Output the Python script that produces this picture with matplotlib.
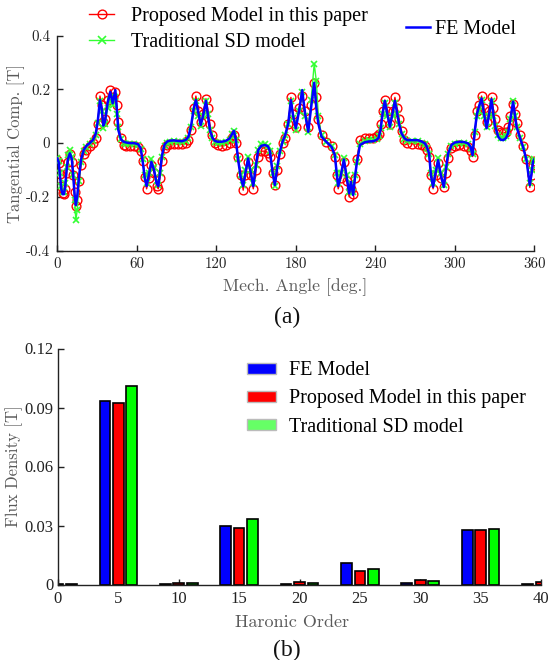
import matplotlib
matplotlib.use("Agg")
import matplotlib.pyplot as plt
from matplotlib.lines import Line2D
from matplotlib.patches import Patch
import numpy as np

plt.rcParams['axes.unicode_minus'] = False

# ---------------- data (a) ----------------
angle = [0, 1, 2, 3, 4, 5, 6, 7, 8, 9.5, 11, 12, 13, 14, 15, 16.5, 18, 20, 22, 24.5,
         27, 29, 30.5, 32.2, 33.5, 34.7, 36, 38, 40, 41.8, 43.8, 45, 46, 48, 50, 52, 55, 58,
         61, 63, 64.5, 66, 67.4, 69, 71, 73, 75, 76.2, 77.5, 79, 81, 83, 85, 88, 91, 94,
         97, 99, 101, 103, 104.6, 106.5, 108.2, 110, 112.2, 113.5, 115.2, 117, 119, 121,
         124, 127, 130, 132, 133.3, 134.8, 136.5, 138.5, 140.3, 142, 144, 146, 147.9, 150,
         151.6, 154, 156.7, 159, 160.5, 162.5, 164.2, 166, 168, 170, 172, 174.3, 176.3, 178,
         180, 182.5, 184.8, 187, 189.4, 191.5, 193.9, 195.5, 197, 199.4, 203, 207, 209.5,
         211, 212, 214, 216.3, 218.5, 220.3, 221.6, 223.3, 224.8, 226, 228.4, 232, 235,
         238.4, 241, 242.5, 244, 245.5, 247.2, 249, 251, 253, 254.8, 256.5, 258, 259.8, 262,
         264, 268, 272, 275, 277.4, 279, 280.6, 282, 283.6, 285.5, 287.4, 289.5, 291.7,
         293.5, 295, 297.5, 300, 303.5, 307, 310, 312, 313.4, 315.1, 316.8, 318.5, 320.2,
         322, 324, 326, 327.7, 329, 330.2, 332.7, 334.5, 336.5, 338.5, 340.2, 342, 344,
         345.5, 346.6, 349, 351.5, 354.1, 356.6, 358, 359, 360]

fe_model = [-0.057, -0.07, -0.12, -0.17, -0.19, -0.19, -0.16, -0.10, -0.06, -0.038, -0.06,
            -0.12, -0.19, -0.23, -0.20, -0.12, -0.06, -0.025, -0.01, 0.0,
            0.012, 0.035, 0.08, 0.16, 0.13, 0.065, 0.08, 0.15, 0.19, 0.148, 0.197, 0.12, 0.05,
            0.014, 0.005, 0.002, 0.0, 0.0,
            -0.004, -0.02, -0.07, -0.13, -0.16, -0.12, -0.07, -0.10, -0.15, -0.16, -0.11,
            -0.045, -0.005, 0.006, 0.009, 0.01, 0.008, 0.007,
            0.012, 0.024, 0.065, 0.13, 0.16, 0.11, 0.067, 0.10, 0.157, 0.11, 0.048, 0.02,
            0.008, 0.005,
            0.005, 0.008, 0.017, 0.035, 0.046, 0.011, -0.063, -0.13, -0.16, -0.11, -0.057,
            -0.11, -0.16, -0.08,
            -0.026, -0.01, -0.007, -0.012, -0.03, -0.11, -0.156, -0.09, -0.032, 0.005, 0.03,
            0.073, 0.16, 0.10,
            0.055, 0.12, 0.197, 0.11, 0.042, 0.13, 0.224, 0.13, 0.073, 0.024, 0.005, -0.014,
            -0.045,
            -0.12, -0.16, -0.12, -0.061, -0.13, -0.187, -0.144, -0.193, -0.12, -0.076, -0.007,
            0.003, 0.006,
            0.007, 0.012, 0.02, 0.05, 0.11, 0.157, 0.11, 0.061, 0.11, 0.157, 0.11, 0.07, 0.036,
            0.018,
            0.011, 0.011, 0.011, 0.006, -0.001, -0.015, -0.038, -0.12, -0.163, -0.11, -0.063,
            -0.12, -0.163,
            -0.09, -0.038, -0.007, 0.002, 0.005, 0.004, -0.001, -0.015, -0.045, 0.048, 0.11,
            0.14, 0.166,
            0.11, 0.055, 0.11, 0.163, 0.11, 0.067, 0.024, 0.013, 0.011, 0.018, 0.036, 0.09,
            0.154,
            0.10, 0.061, 0.023, -0.014, -0.063, -0.156, -0.11, -0.07, -0.06]

proposed = [-0.062, -0.075, -0.115, -0.16, -0.185, -0.19, -0.17, -0.11, -0.07, -0.04, -0.07,
            -0.12, -0.18, -0.235, -0.21, -0.14, -0.08, -0.04, -0.025, -0.012,
            0.0, 0.02, 0.07, 0.175, 0.14, 0.08, 0.09, 0.16, 0.198, 0.17, 0.19, 0.14, 0.08,
            0.02, -0.006, -0.01, -0.012, -0.012,
            -0.015, -0.03, -0.065, -0.125, -0.17, -0.13, -0.08, -0.11, -0.16, -0.17, -0.13,
            -0.065, -0.02, -0.006, -0.004, -0.003, -0.004, -0.004,
            0.0, 0.012, 0.05, 0.13, 0.175, 0.12, 0.08, 0.11, 0.165, 0.13, 0.07, 0.03,
            0.0, -0.008,
            -0.01, -0.008, 0.0, 0.02, 0.03, 0.0, -0.05, -0.12, -0.175, -0.12, -0.07,
            -0.12, -0.17, -0.1,
            -0.05, -0.03, -0.03, -0.035, -0.05, -0.11, -0.155, -0.1, -0.04, 0.0, 0.02,
            0.07, 0.17, 0.11,
            0.06, 0.13, 0.175, 0.12, 0.06, 0.14, 0.225, 0.17, 0.09, 0.03, 0.005, -0.01,
            -0.05,
            -0.12, -0.17, -0.13, -0.07, -0.14, -0.2, -0.17, -0.19, -0.13, -0.06, 0.01,
            0.018, 0.02,
            0.02, 0.025, 0.035, 0.07, 0.12, 0.16, 0.12, 0.07, 0.12, 0.17, 0.13, 0.09, 0.045,
            0.01,
            0.0, -0.003, -0.003, -0.006, -0.012, -0.025, -0.05, -0.12, -0.17, -0.12, -0.075,
            -0.13, -0.165,
            -0.11, -0.055, -0.02, -0.01, -0.008, -0.01, -0.015, -0.03, -0.05, 0.03, 0.12,
            0.14, 0.175,
            0.13, 0.08, 0.12, 0.17, 0.13, 0.09, 0.05, 0.04, 0.037, 0.04, 0.06, 0.1,
            0.145,
            0.11, 0.075, 0.03, -0.01, -0.06, -0.165, -0.12, -0.08, -0.065]

traditional = [-0.055, -0.065, -0.11, -0.16, -0.18, -0.18, -0.15, -0.09, -0.045, -0.026, -0.05,
               -0.12, -0.21, -0.287, -0.25, -0.14, -0.07, -0.03, -0.015, -0.005,
               0.008, 0.03, 0.075, 0.155, 0.12, 0.055, 0.07, 0.13, 0.16, 0.14, 0.17, 0.11, 0.06,
               0.015, 0.0, -0.003, -0.004, -0.004,
               -0.008, -0.022, -0.06, -0.12, -0.15, -0.11, -0.06, -0.09, -0.14, -0.155, -0.11,
               -0.05, -0.01, 0.002, 0.005, 0.006, 0.004, 0.003,
               0.008, 0.02, 0.06, 0.12, 0.155, 0.1, 0.065, 0.1, 0.155, 0.11, 0.05, 0.02,
               0.005, 0.0,
               0.0, 0.003, 0.012, 0.032, 0.045, 0.01, -0.06, -0.12, -0.155, -0.1, -0.05,
               -0.1, -0.15, -0.08,
               -0.025, -0.005, -0.003, -0.01, -0.03, -0.11, -0.16, -0.085, -0.03, 0.005, 0.03,
               0.07, 0.155, 0.095,
               0.05, 0.12, 0.19, 0.1, 0.04, 0.16, 0.295, 0.23, 0.1, 0.03, 0.005, -0.012,
               -0.045,
               -0.11, -0.15, -0.11, -0.055, -0.12, -0.18, -0.15, -0.18, -0.12, -0.07, -0.003,
               0.008, 0.01,
               0.01, 0.015, 0.025, 0.055, 0.11, 0.15, 0.1, 0.06, 0.1, 0.15, 0.11, 0.07, 0.035,
               0.015,
               0.008, 0.007, 0.007, 0.002, -0.005, -0.018, -0.04, -0.11, -0.15, -0.1, -0.055,
               -0.11, -0.155,
               -0.09, -0.04, -0.01, -0.002, 0.001, 0.0, -0.004, -0.02, -0.04, 0.04, 0.1,
               0.12, 0.16,
               0.1, 0.06, 0.1, 0.155, 0.1, 0.065, 0.03, 0.02, 0.018, 0.025, 0.04, 0.09,
               0.155,
               0.1, 0.06, 0.02, -0.015, -0.06, -0.15, -0.1, -0.065, -0.06]

angle_ticks = [0, 60, 120, 180, 240, 300, 360]
tang_ticks = [-0.4, -0.2, 0, 0.2, 0.4]
tang_ticklabels = ["-0.4", "-0.2", "0", "0.2", "0.4"]

# ---------------- data (b) ----------------
harm_order = [0, 5, 10, 15, 20, 25, 30, 35, 40]
fe_harm = [0.0003, 0.0932, 0.0005, 0.0300, 0.0005, 0.0108, 0.0007, 0.0276, 0.0005]
prop_harm = [0.0003, 0.0922, 0.0010, 0.0289, 0.0013, 0.0071, 0.0022, 0.0276, 0.0015]
trad_harm = [0.0003, 0.1008, 0.0008, 0.0335, 0.0010, 0.0077, 0.0020, 0.0280, 0.0010]
flux_ticks = [0, 0.03, 0.06, 0.09, 0.12]
flux_ticklabels = ["0", "0.03", "0.06", "0.09", "0.12"]
harm_ticks = [0, 5, 10, 15, 20, 25, 30, 35, 40]

# ---------------- figure ----------------
W, H = 559, 660
fig = plt.figure(figsize=(W / 100, H / 100), dpi=100)

CM = 'cmr10'
SERIF = ['Liberation Serif', 'DejaVu Serif']
LABEL_GRAY = '#5a5a5a'
TICK_COL = '#222222'

def px_axes(l, t, r, b):
    return [l / W, 1 - b / H, (r - l) / W, (b - t) / H]

# ----- (a) -----
ax1 = fig.add_axes(px_axes(57.3, 35.5, 534.3, 250.7))
ax1.plot(angle, proposed, color='#ff0000', lw=1.0, marker='o', ms=6.3, mfc='none',
         mec='#ff0000', mew=1.0, zorder=2)
ax1.plot(angle, traditional, color='#33ff33', lw=1.0, marker='x', ms=4.8, mew=1.2,
         zorder=3)
ax1.plot(angle, fe_model, color='#0000ff', lw=1.8, zorder=4)
ax1.set_xlim(0, 360)
ax1.set_ylim(-0.4, 0.4)
ax1.set_xticks(angle_ticks)
ax1.set_xticklabels([str(a) for a in angle_ticks])
ax1.set_yticks(tang_ticks)
ax1.set_yticklabels(tang_ticklabels)
for sp in ['top', 'right']:
    ax1.spines[sp].set_visible(False)
for sp in ['left', 'bottom']:
    ax1.spines[sp].set_color(TICK_COL)
    ax1.spines[sp].set_linewidth(1.0)
ax1.tick_params(direction='in', length=4, width=1.0, color=TICK_COL, labelcolor=TICK_COL,
                labelsize=10.8, pad=5)
for lab in ax1.get_xticklabels() + ax1.get_yticklabels():
    lab.set_fontfamily(CM)
ax1.set_xlabel("Mech. Angle [deg.]", fontfamily=CM, fontsize=12.7, color=LABEL_GRAY)
ax1.xaxis.set_label_coords((295.5 - 57.3) / (534.3 - 57.3), -(287 - 250.7) / (250.7 - 35.5),
                           transform=ax1.transAxes)
ax1.xaxis.label.set_va('center')
ax1.set_ylabel("Tangential Comp. [T]", fontfamily=CM, fontsize=12, color=LABEL_GRAY)
ax1.yaxis.set_label_coords(-(57.3 - 16) / (534.3 - 57.3), 0.5, transform=ax1.transAxes)
ax1.yaxis.label.set_va('center')

h_prop = Line2D([], [], color='#ff0000', lw=1.0, marker='o', ms=6.3, mfc='none',
                mec='#ff0000', mew=1.0)
h_trad = Line2D([], [], color='#33ff33', lw=1.0, marker='x', ms=5.5, mew=1.2)
h_fe = Line2D([], [], color='#0000ff', lw=1.8)
leg1 = fig.legend([h_prop, h_trad], ["Proposed Model in this paper", "Traditional SD model"],
                  loc='center left', bbox_to_anchor=(89 / W, 1 - 29.7 / H), frameon=False,
                  prop={'family': SERIF, 'size': 14.5}, borderpad=0, borderaxespad=0,
                  handlelength=1.25, handletextpad=0.85, labelspacing=0.32, numpoints=1)
leg2 = fig.legend([h_fe], ["FE Model"], loc='center left',
                  bbox_to_anchor=(406 / W, 1 - 29.3 / H), frameon=False,
                  prop={'family': SERIF, 'size': 14.5}, borderpad=0, borderaxespad=0,
                  handlelength=1.2, handletextpad=0.25)

fig.text(287 / W, 1 - 317 / H, "(a)", ha='center', va='center', fontfamily=SERIF,
         fontsize=17, color='#111111')

# ----- (b) -----
ax2 = fig.add_axes(px_axes(58, 348.5, 541, 584.5))
x = np.array(harm_order, dtype=float)
off = 1.11
bw = 0.89
ax2.bar(x - off, fe_harm, bw, color='#0000ff', edgecolor='black', lw=1.2, zorder=2)
ax2.bar(x, prop_harm, bw, color='#ff0000', edgecolor='black', lw=1.2, zorder=2)
ax2.bar(x + off, trad_harm, bw, color='#00ff00', edgecolor='black', lw=1.2, zorder=2)
ax2.set_xlim(0, 40)
ax2.set_ylim(0, 0.12)
ax2.set_xticks(harm_ticks)
ax2.set_xticklabels([str(h) for h in harm_ticks])
ax2.set_yticks(flux_ticks)
ax2.set_yticklabels(flux_ticklabels)
for sp in ['top', 'right']:
    ax2.spines[sp].set_visible(False)
for sp in ['left', 'bottom']:
    ax2.spines[sp].set_color(TICK_COL)
    ax2.spines[sp].set_linewidth(1.0)
    ax2.spines[sp].set_zorder(3)
ax2.tick_params(direction='in', length=4, width=1.0, color=TICK_COL, labelcolor=TICK_COL,
                labelsize=12, pad=5)
ax2.tick_params(axis='y', pad=3)
for lab in ax2.get_xticklabels() + ax2.get_yticklabels():
    lab.set_fontfamily(SERIF)
ax2.set_xlabel("Haronic Order", fontfamily=CM, fontsize=13, color=LABEL_GRAY)
ax2.xaxis.set_label_coords((292 - 58) / (541 - 58), -(622 - 584.5) / (584.5 - 348.5),
                           transform=ax2.transAxes)
ax2.xaxis.label.set_va('center')
ax2.set_ylabel("Flux Density [T]", fontfamily=CM, fontsize=12, color=LABEL_GRAY)
ax2.yaxis.set_label_coords(-(58 - 14) / (541 - 58), 0.5, transform=ax2.transAxes)
ax2.yaxis.label.set_va('center')

p_fe = Patch(facecolor='#0000ff', edgecolor='#bbbbbb', lw=1.0)
p_prop = Patch(facecolor='#ff0000', edgecolor='#bbbbbb', lw=1.0)
p_trad = Patch(facecolor='#66ff66', edgecolor='#bbbbbb', lw=1.0)
leg3 = fig.legend([p_fe, p_prop, p_trad],
                  ["FE Model", "Proposed Model in this paper", "Traditional SD model"],
                  loc='center left', bbox_to_anchor=(247 / W, 1 - 399 / H), frameon=False,
                  prop={'family': SERIF, 'size': 14.5}, borderpad=0, borderaxespad=0,
                  handlelength=1.45, handleheight=0.5, handletextpad=0.65,
                  labelspacing=0.45)

fig.text(287 / W, 1 - 650 / H, "(b)", ha='center', va='center', fontfamily=SERIF,
         fontsize=17, color='#111111')

fig.savefig("out.png", dpi=100)
